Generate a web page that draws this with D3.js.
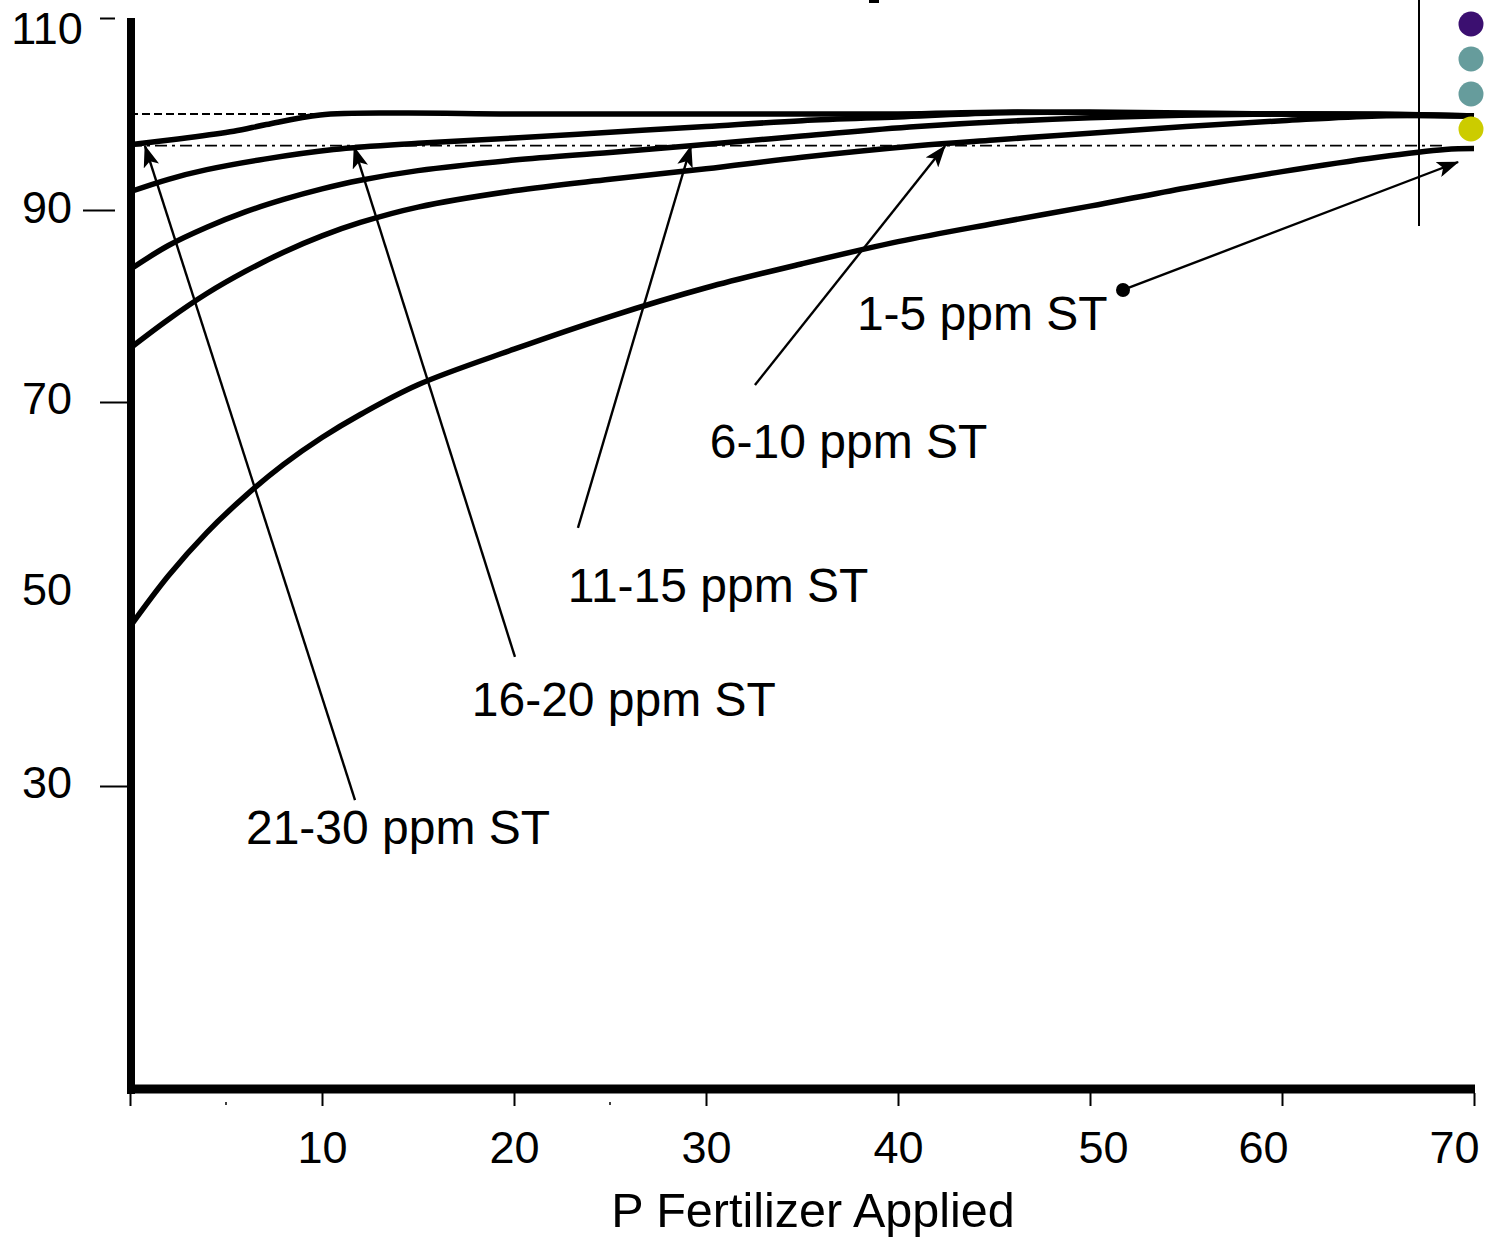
<!DOCTYPE html>
<html>
<head>
<meta charset="utf-8">
<script src="https://cdn.jsdelivr.net/npm/d3@7/dist/d3.min.js"></script>
<style>
  html, body { margin: 0; padding: 0; background: #fff; }
  svg { display: block; font-family: "Liberation Sans", Arial, sans-serif; }
</style>
</head>
<body>
<svg id="chart" width="1491" height="1238"></svg>
<script>
// ---------- data ----------
const seriesNames = ["21-30 ppm ST", "16-20 ppm ST", "11-15 ppm ST", "6-10 ppm ST", "1-5 ppm ST"];

const xA = [0, 2.5, 5.4, 7.1, 9.9, 14, 20, 30, 40, 46, 55, 65, 70];
const yA = [96.8, 97.4, 98.2, 98.9, 99.9, 100.1, 100.0, 100.0, 100.0, 100.2, 100.0, 100.0, 99.8];

const xB = [0, 2, 4, 7, 10.6, 15, 20, 25, 30, 35, 40, 45, 50, 60, 70];
const yB = [91.9, 93.2, 94.2, 95.3, 96.3, 96.95, 97.5, 98.1, 98.7, 99.3, 99.7, 100.1, 100.2, 100.0, 99.8];

const xC = [0, 2, 4, 6, 8, 10, 12, 15, 20, 25, 29.2, 35, 41, 50, 60, 70];
const yC = [83.8, 86.3, 88.2, 89.8, 91.1, 92.2, 93.1, 94.1, 95.2, 96.0, 96.7, 97.7, 98.7, 99.6, 100.0, 99.8];

const xD = [0, 2, 4, 6, 8, 10, 12, 15, 20, 25, 30, 35, 41, 45, 50, 55, 60, 65, 70];
const yD = [75.6, 78.6, 81.3, 83.6, 85.6, 87.3, 88.7, 90.3, 92.0, 93.2, 94.3, 95.5, 96.7, 97.3, 98.0, 98.7, 99.3, 99.8, 99.8];

const xE = [0, 2, 4, 6, 8, 10, 12, 15, 20, 25, 30, 35, 40, 45, 50, 55, 60, 65, 68.5, 70];
const yE = [46.6, 51.9, 56.4, 60.2, 63.5, 66.3, 68.7, 71.8, 75.5, 78.9, 81.9, 84.4, 86.7, 88.6, 90.4, 92.3, 94.0, 95.5, 96.3, 96.4];

const xTicks = [0, 10, 20, 30, 40, 50, 60, 70];
const xMinorTicks = [5, 25];
const yTicks = [110, 90, 70, 50, 30];
const xTitle = "P Fertilizer Applied";

const maxLine = 100;       // dashed reference
const critLine = 96.7;     // dash-dot reference

// annotation: label anchor (x, y in data units), arrow start and tip
const labelX = [6.04, 17.8, 22.8, 30.2, 37.86];
const labelY = [23.96, 37.3, 49.17, 64.17, 77.5];
const arrowFromX = [11.72, 20.05, 23.33, 32.55, 51.72];
const arrowFromY = [28.54, 43.44, 56.88, 71.77, 81.67];
const arrowToX = [0.78, 11.67, 29.22, 42.45, 69.17];
const arrowToY = [96.67, 96.56, 96.67, 96.67, 95.0];

const legendColors = ["#3b0f70", "#669c9c", "#669c9c", "#cccc00"];

// ---------- layout ----------
const svg = d3.select("#chart");
const X0 = 130, X1 = 1474;
const Ytop = 18, pxPerUnit = 9.6, Ybottom = 1089;
const x = d3.scaleLinear().domain([0, 70]).range([X0, X1]);
const y = d3.scaleLinear().domain([110, 110 - (Ybottom - Ytop) / pxPerUnit]).range([Ytop, Ybottom]);

// reference lines
svg.append("line")
  .attr("x1", x(0)).attr("x2", x(12)).attr("y1", y(maxLine)).attr("y2", y(maxLine))
  .attr("stroke", "#000").attr("stroke-width", 1.8).attr("stroke-dasharray", "8,4");
svg.append("line")
  .attr("x1", x(0)).attr("x2", x(68.5)).attr("y1", y(critLine)).attr("y2", y(critLine))
  .attr("stroke", "#000").attr("stroke-width", 1.8).attr("stroke-dasharray", "12,5,3,5");

// curves
const seriesX = [xA, xB, xC, xD, xE];
const seriesY = [yA, yB, yC, yD, yE];
const line = d3.line().x(d => x(d[0])).y(d => y(d[1])).curve(d3.curveCatmullRom.alpha(0.5));
seriesNames.forEach((name, i) => {
  const pts = seriesX[i].map((v, j) => [v, seriesY[i][j]]);
  svg.append("path").datum(pts)
    .attr("d", line)
    .attr("fill", "none")
    .attr("stroke", "#000")
    .attr("stroke-width", 5.5)
    .attr("stroke-linejoin", "round");
});

// axes lines (thick)
svg.append("line").attr("x1", 131).attr("x2", 131).attr("y1", Ytop).attr("y2", Ybottom + 5)
  .attr("stroke", "#000").attr("stroke-width", 8);
svg.append("line").attr("x1", 127).attr("x2", X1 + 1).attr("y1", Ybottom).attr("y2", Ybottom)
  .attr("stroke", "#000").attr("stroke-width", 9);

// x axis ticks & labels
const xLabelDx = {50: 13, 60: -19, 70: -20};
const gx = svg.append("g").attr("transform", `translate(0,${Ybottom + 4})`)
  .call(d3.axisBottom(x).tickValues(xTicks).tickSize(13).tickFormat(d => d === 0 ? "" : d));
gx.select(".domain").remove();
gx.selectAll(".tick line").attr("stroke", "#000").attr("stroke-width", 2);
gx.selectAll(".tick text")
  .attr("y", 70).attr("dy", null)
  .attr("dx", d => xLabelDx[d] || 0)
  .attr("fill", "#000")
  .style("font-size", "45px")
  .style("font-family", "'Liberation Sans', Arial, sans-serif");
// tiny minor ticks
svg.selectAll(".minor").data(xMinorTicks).enter().append("line")
  .attr("x1", d => x(d)).attr("x2", d => x(d))
  .attr("y1", Ybottom + 13).attr("y2", Ybottom + 16)
  .attr("stroke", "#000").attr("stroke-width", 1.5);

// y axis ticks & labels
const yTickSpan = {110: [-31, -16], 90: [-48, -16], 70: [-31, -3], 50: [0, 0], 30: [-31, -3]};
const yLabelDy = {110: 25, 90: 12, 70: 11, 50: 10, 30: 11};
const gy = svg.append("g").attr("transform", "translate(131,0)")
  .call(d3.axisLeft(y).tickValues(yTicks).tickSize(0));
gy.select(".domain").remove();
gy.selectAll(".tick line")
  .attr("x1", d => yTickSpan[d][0]).attr("x2", d => yTickSpan[d][1])
  .attr("stroke", "#000").attr("stroke-width", 2);
gy.selectAll(".tick text")
  .attr("x", -84).attr("dy", null).attr("y", d => yLabelDy[d])
  .attr("text-anchor", "middle")
  .attr("fill", "#000")
  .style("font-size", "45px")
  .style("font-family", "'Liberation Sans', Arial, sans-serif");

// x title
svg.append("text")
  .attr("x", 813).attr("y", 1227)
  .attr("text-anchor", "middle")
  .style("font-size", "48.5px")
  .text(xTitle);

// arrow marker
svg.append("defs").append("marker")
  .attr("id", "ah").attr("markerUnits", "userSpaceOnUse")
  .attr("viewBox", "0 0 22 16").attr("refX", 21).attr("refY", 8)
  .attr("markerWidth", 22).attr("markerHeight", 16).attr("orient", "auto")
  .append("path").attr("d", "M0,0 L22,8 L0,16 L5,8 Z").attr("fill", "#000");

// annotations
seriesNames.forEach((name, i) => {
  svg.append("line")
    .attr("x1", x(arrowFromX[i])).attr("y1", y(arrowFromY[i]))
    .attr("x2", x(arrowToX[i])).attr("y2", y(arrowToY[i]))
    .attr("stroke", "#000").attr("stroke-width", 2.4)
    .attr("marker-end", "url(#ah)");
  svg.append("text")
    .attr("x", x(labelX[i])).attr("y", y(labelY[i]))
    .style("font-size", "48px")
    .text(name);
});
// dot at start of 1-5 arrow
svg.append("circle")
  .attr("cx", x(arrowFromX[4])).attr("cy", y(arrowFromY[4])).attr("r", 7).attr("fill", "#000");

// vertical separator line and legend dots at right
svg.append("line").attr("x1", 1419).attr("x2", 1419).attr("y1", 0).attr("y2", 226)
  .attr("stroke", "#000").attr("stroke-width", 2);
svg.selectAll(".leg").data(legendColors).enter().append("circle")
  .attr("cx", 1471).attr("cy", (d, i) => 24 + i * 35).attr("r", 12.5)
  .attr("fill", d => d);

// clipped title fragment at top
svg.append("rect").attr("x", 869).attr("y", 0).attr("width", 10).attr("height", 3).attr("fill", "#000");
</script>
</body>
</html>
